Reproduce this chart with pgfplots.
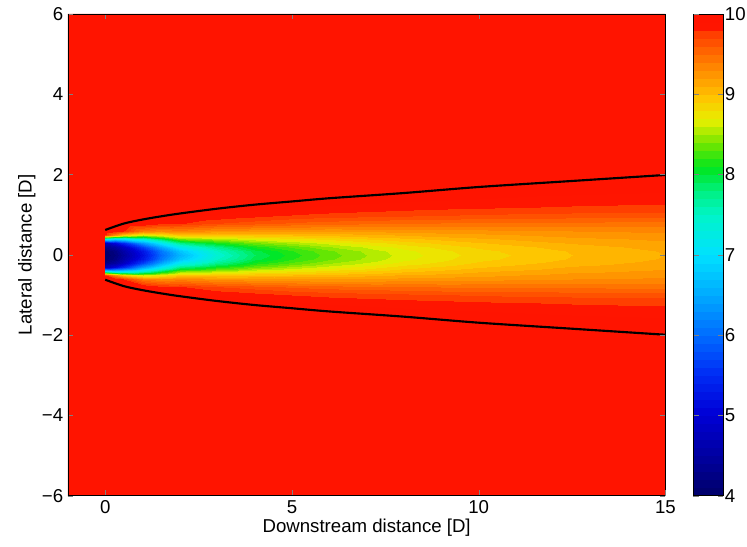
\documentclass[border=0pt]{standalone}
\usepackage{fontspec}
\setmainfont{Liberation Sans}
\usepackage{pgfplots}
\pgfplotsset{compat=1.18}
\definecolor{bgred}{RGB}{255,20,0}
\pgfplotsset{
  /pgf/number format/assume math mode=true,
  every tick label/.append style={font=\fontsize{14}{16}\selectfont},
  every axis label/.append style={font=\fontsize{14}{16}\selectfont},
}
\begin{document}
\begin{tikzpicture}
\begin{axis}[
  view={0}{90},
  scale only axis,
  width=449pt, height=362pt,
  xmin=-1, xmax=15, ymin=-6, ymax=6,
  xtick={0,5,10,15}, ytick={-6,-4,...,6},
  yticklabels={−6,−4,−2,0,2,4,6},
  xlabel={Downstream distance [D]},
  ylabel={Lateral distance [D]},
  xlabel style={yshift=3pt},
  ylabel style={yshift=-2pt},
  axis background/.style={fill=bgred},
  axis on top,
  tick align=inside,
  major tick length=4pt,
  point meta min=4, point meta max=10,
  colormap={wake}{
    rgb255(40pt)=(0,0,110) rgb255(45pt)=(0,0,165) rgb255(50pt)=(0,0,215)
    rgb255(55pt)=(0,45,245) rgb255(60pt)=(0,110,255) rgb255(65pt)=(0,170,255)
    rgb255(70pt)=(0,225,255) rgb255(75pt)=(0,245,200) rgb255(78pt)=(0,240,130)
    rgb255(81pt)=(0,230,30) rgb255(84pt)=(110,230,0) rgb255(87pt)=(230,240,0)
    rgb255(90pt)=(255,195,0) rgb255(95pt)=(255,115,0) rgb255(98pt)=(255,62,0)
    rgb255(99pt)=(255,20,0) rgb255(100pt)=(255,20,0)
  },
  colorbar right,
  colorbar style={
    width=22.5pt,
    at={(parent axis.north east)}, anchor=north west, xshift=12.5pt,
    ytick={4,5,...,10},
    ytick pos=both, yticklabel pos=right,
    yticklabel style={inner xsep=1pt},
    tick align=inside, major tick length=4pt,
  },
]
% x varies within each row: 0 0.25 0.5 1 1.5 2 3 4 5 6 8 10 12.5 15
\addplot3[contour filled={number=60}, mesh/cols=14] table[row sep=\\] {
x y z\\
0 -2.0 10\\ 0.25 -2.0 10\\ 0.5 -2.0 10\\ 1 -2.0 10\\ 1.5 -2.0 10\\ 2 -2.0 10\\ 3 -2.0 10\\ 4 -2.0 10\\ 5 -2.0 10\\ 6 -2.0 10\\ 8 -2.0 10\\ 10 -2.0 10\\ 12.5 -2.0 9.99\\ 15 -2.0 9.98\\
0 -1.8 10\\ 0.25 -1.8 10\\ 0.5 -1.8 10\\ 1 -1.8 10\\ 1.5 -1.8 10\\ 2 -1.8 10\\ 3 -1.8 10\\ 4 -1.8 10\\ 5 -1.8 10\\ 6 -1.8 10\\ 8 -1.8 9.99\\ 10 -1.8 9.98\\ 12.5 -1.8 9.97\\ 15 -1.8 9.95\\
0 -1.6 10\\ 0.25 -1.6 10\\ 0.5 -1.6 10\\ 1 -1.6 10\\ 1.5 -1.6 10\\ 2 -1.6 10\\ 3 -1.6 10\\ 4 -1.6 10\\ 5 -1.6 9.99\\ 6 -1.6 9.985\\ 8 -1.6 9.975\\ 10 -1.6 9.95\\ 12.5 -1.6 9.93\\ 15 -1.6 9.91\\
0 -1.4 10\\ 0.25 -1.4 10\\ 0.5 -1.4 10\\ 1 -1.4 10\\ 1.5 -1.4 10\\ 2 -1.4 10\\ 3 -1.4 10\\ 4 -1.4 9.99\\ 5 -1.4 9.97\\ 6 -1.4 9.96\\ 8 -1.4 9.93\\ 10 -1.4 9.90\\ 12.5 -1.4 9.87\\ 15 -1.4 9.85\\
0 -1.2 10\\ 0.25 -1.2 10\\ 0.5 -1.2 10\\ 1 -1.2 10\\ 1.5 -1.2 10\\ 2 -1.2 10\\ 3 -1.2 9.97\\ 4 -1.2 9.94\\ 5 -1.2 9.91\\ 6 -1.2 9.89\\ 8 -1.2 9.85\\ 10 -1.2 9.82\\ 12.5 -1.2 9.79\\ 15 -1.2 9.77\\
0 -1.0 10\\ 0.25 -1.0 10\\ 0.5 -1.0 10\\ 1 -1.0 10\\ 1.5 -1.0 10\\ 2 -1.0 9.96\\ 3 -1.0 9.90\\ 4 -1.0 9.85\\ 5 -1.0 9.80\\ 6 -1.0 9.77\\ 8 -1.0 9.73\\ 10 -1.0 9.69\\ 12.5 -1.0 9.67\\ 15 -1.0 9.66\\
0 -0.8 10\\ 0.25 -0.8 10\\ 0.5 -0.8 10\\ 1 -0.8 9.95\\ 1.5 -0.8 9.85\\ 2 -0.8 9.82\\ 3 -0.8 9.71\\ 4 -0.8 9.65\\ 5 -0.8 9.59\\ 6 -0.8 9.55\\ 8 -0.8 9.51\\ 10 -0.8 9.49\\ 12.5 -0.8 9.48\\ 15 -0.8 9.47\\
0 -0.6 10\\ 0.25 -0.6 9.95\\ 0.5 -0.6 9.8\\ 1 -0.6 9.4\\ 1.5 -0.6 9.3\\ 2 -0.6 9.36\\ 3 -0.6 9.27\\ 4 -0.6 9.24\\ 5 -0.6 9.22\\ 6 -0.6 9.21\\ 8 -0.6 9.24\\ 10 -0.6 9.27\\ 12.5 -0.6 9.30\\ 15 -0.6 9.32\\
0 -0.5 9.8\\ 0.25 -0.5 9.3\\ 0.5 -0.5 8.9\\ 1 -0.5 8.6\\ 1.5 -0.5 8.75\\ 2 -0.5 8.94\\ 3 -0.5 8.93\\ 4 -0.5 8.98\\ 5 -0.5 9.0\\ 6 -0.5 9.03\\ 8 -0.5 9.11\\ 10 -0.5 9.17\\ 12.5 -0.5 9.24\\ 15 -0.5 9.27\\
0 -0.4 7.2\\ 0.25 -0.4 6.9\\ 0.5 -0.4 7.0\\ 1 -0.4 7.4\\ 1.5 -0.4 7.9\\ 2 -0.4 8.38\\ 3 -0.4 8.52\\ 4 -0.4 8.67\\ 5 -0.4 8.75\\ 6 -0.4 8.83\\ 8 -0.4 8.97\\ 10 -0.4 9.08\\ 12.5 -0.4 9.17\\ 15 -0.4 9.22\\
0 -0.3 4.7\\ 0.25 -0.3 5.1\\ 0.5 -0.3 5.5\\ 1 -0.3 6.4\\ 1.5 -0.3 7.1\\ 2 -0.3 7.76\\ 3 -0.3 8.11\\ 4 -0.3 8.38\\ 5 -0.3 8.52\\ 6 -0.3 8.64\\ 8 -0.3 8.85\\ 10 -0.3 8.99\\ 12.5 -0.3 9.11\\ 15 -0.3 9.18\\
0 -0.2 4.3\\ 0.25 -0.2 4.5\\ 0.5 -0.2 4.85\\ 1 -0.2 5.7\\ 1.5 -0.2 6.5\\ 2 -0.2 7.18\\ 3 -0.2 7.74\\ 4 -0.2 8.13\\ 5 -0.2 8.32\\ 6 -0.2 8.49\\ 8 -0.2 8.74\\ 10 -0.2 8.92\\ 12.5 -0.2 9.05\\ 15 -0.2 9.14\\
0 -0.1 4.05\\ 0.25 -0.1 4.25\\ 0.5 -0.1 4.6\\ 1 -0.1 5.3\\ 1.5 -0.1 6.1\\ 2 -0.1 6.75\\ 3 -0.1 7.49\\ 4 -0.1 7.96\\ 5 -0.1 8.19\\ 6 -0.1 8.38\\ 8 -0.1 8.67\\ 10 -0.1 8.87\\ 12.5 -0.1 9.01\\ 15 -0.1 9.11\\
0 0 4.0\\ 0.25 0 4.2\\ 0.5 0 4.5\\ 1 0 5.2\\ 1.5 0 6.0\\ 2 0 6.6\\ 3 0 7.4\\ 4 0 7.9\\ 5 0 8.15\\ 6 0 8.35\\ 8 0 8.65\\ 10 0 8.85\\ 12.5 0 9.0\\ 15 0 9.1\\
0 0.1 4.05\\ 0.25 0.1 4.25\\ 0.5 0.1 4.6\\ 1 0.1 5.3\\ 1.5 0.1 6.1\\ 2 0.1 6.75\\ 3 0.1 7.49\\ 4 0.1 7.96\\ 5 0.1 8.19\\ 6 0.1 8.38\\ 8 0.1 8.67\\ 10 0.1 8.87\\ 12.5 0.1 9.01\\ 15 0.1 9.11\\
0 0.2 4.3\\ 0.25 0.2 4.5\\ 0.5 0.2 4.85\\ 1 0.2 5.7\\ 1.5 0.2 6.5\\ 2 0.2 7.18\\ 3 0.2 7.74\\ 4 0.2 8.13\\ 5 0.2 8.32\\ 6 0.2 8.49\\ 8 0.2 8.74\\ 10 0.2 8.92\\ 12.5 0.2 9.05\\ 15 0.2 9.14\\
0 0.3 4.7\\ 0.25 0.3 5.1\\ 0.5 0.3 5.5\\ 1 0.3 6.4\\ 1.5 0.3 7.1\\ 2 0.3 7.76\\ 3 0.3 8.11\\ 4 0.3 8.38\\ 5 0.3 8.52\\ 6 0.3 8.64\\ 8 0.3 8.85\\ 10 0.3 8.99\\ 12.5 0.3 9.11\\ 15 0.3 9.18\\
0 0.4 7.2\\ 0.25 0.4 6.9\\ 0.5 0.4 7.0\\ 1 0.4 7.4\\ 1.5 0.4 7.9\\ 2 0.4 8.38\\ 3 0.4 8.52\\ 4 0.4 8.67\\ 5 0.4 8.75\\ 6 0.4 8.83\\ 8 0.4 8.97\\ 10 0.4 9.08\\ 12.5 0.4 9.17\\ 15 0.4 9.22\\
0 0.5 9.8\\ 0.25 0.5 9.3\\ 0.5 0.5 8.9\\ 1 0.5 8.6\\ 1.5 0.5 8.75\\ 2 0.5 8.94\\ 3 0.5 8.93\\ 4 0.5 8.98\\ 5 0.5 9.0\\ 6 0.5 9.03\\ 8 0.5 9.11\\ 10 0.5 9.17\\ 12.5 0.5 9.24\\ 15 0.5 9.27\\
0 0.6 10\\ 0.25 0.6 9.95\\ 0.5 0.6 9.8\\ 1 0.6 9.4\\ 1.5 0.6 9.3\\ 2 0.6 9.36\\ 3 0.6 9.27\\ 4 0.6 9.24\\ 5 0.6 9.22\\ 6 0.6 9.21\\ 8 0.6 9.24\\ 10 0.6 9.27\\ 12.5 0.6 9.30\\ 15 0.6 9.32\\
0 0.8 10\\ 0.25 0.8 10\\ 0.5 0.8 10\\ 1 0.8 9.95\\ 1.5 0.8 9.85\\ 2 0.8 9.82\\ 3 0.8 9.71\\ 4 0.8 9.65\\ 5 0.8 9.59\\ 6 0.8 9.55\\ 8 0.8 9.51\\ 10 0.8 9.49\\ 12.5 0.8 9.48\\ 15 0.8 9.47\\
0 1.0 10\\ 0.25 1.0 10\\ 0.5 1.0 10\\ 1 1.0 10\\ 1.5 1.0 10\\ 2 1.0 9.96\\ 3 1.0 9.90\\ 4 1.0 9.85\\ 5 1.0 9.80\\ 6 1.0 9.77\\ 8 1.0 9.73\\ 10 1.0 9.69\\ 12.5 1.0 9.67\\ 15 1.0 9.66\\
0 1.2 10\\ 0.25 1.2 10\\ 0.5 1.2 10\\ 1 1.2 10\\ 1.5 1.2 10\\ 2 1.2 10\\ 3 1.2 9.97\\ 4 1.2 9.94\\ 5 1.2 9.91\\ 6 1.2 9.89\\ 8 1.2 9.85\\ 10 1.2 9.82\\ 12.5 1.2 9.79\\ 15 1.2 9.77\\
0 1.4 10\\ 0.25 1.4 10\\ 0.5 1.4 10\\ 1 1.4 10\\ 1.5 1.4 10\\ 2 1.4 10\\ 3 1.4 10\\ 4 1.4 9.99\\ 5 1.4 9.97\\ 6 1.4 9.96\\ 8 1.4 9.93\\ 10 1.4 9.90\\ 12.5 1.4 9.87\\ 15 1.4 9.85\\
0 1.6 10\\ 0.25 1.6 10\\ 0.5 1.6 10\\ 1 1.6 10\\ 1.5 1.6 10\\ 2 1.6 10\\ 3 1.6 10\\ 4 1.6 10\\ 5 1.6 9.99\\ 6 1.6 9.985\\ 8 1.6 9.975\\ 10 1.6 9.95\\ 12.5 1.6 9.93\\ 15 1.6 9.91\\
0 1.8 10\\ 0.25 1.8 10\\ 0.5 1.8 10\\ 1 1.8 10\\ 1.5 1.8 10\\ 2 1.8 10\\ 3 1.8 10\\ 4 1.8 10\\ 5 1.8 10\\ 6 1.8 10\\ 8 1.8 9.99\\ 10 1.8 9.98\\ 12.5 1.8 9.97\\ 15 1.8 9.95\\
0 2.0 10\\ 0.25 2.0 10\\ 0.5 2.0 10\\ 1 2.0 10\\ 1.5 2.0 10\\ 2 2.0 10\\ 3 2.0 10\\ 4 2.0 10\\ 5 2.0 10\\ 6 2.0 10\\ 8 2.0 10\\ 10 2.0 10\\ 12.5 2.0 9.99\\ 15 2.0 9.98\\
};
% wake boundary lines
\addplot3[black, line width=1.6pt, smooth, no marks] coordinates {
(0,0.62,10) (0.5,0.78,10) (1,0.88,10) (1.5,0.96,10) (2,1.03,10) (3,1.15,10) (4,1.25,10)
(5,1.33,10) (6,1.41,10) (8,1.54,10) (10,1.69,10) (12.5,1.84,10) (15,1.99,10)
};
\addplot3[black, line width=1.6pt, smooth, no marks] coordinates {
(0,-0.62,10) (0.5,-0.78,10) (1,-0.88,10) (1.5,-0.96,10) (2,-1.03,10) (3,-1.15,10) (4,-1.25,10)
(5,-1.33,10) (6,-1.41,10) (8,-1.54,10) (10,-1.69,10) (12.5,-1.84,10) (15,-1.99,10)
};
\end{axis}
\path (current axis.north) ++(0,10.5pt);
\path (current axis.south) ++(0,-38.5pt);
\path (current axis.west) ++(-51pt,0);
\path (current axis.east) ++(60pt,0);
\end{tikzpicture}
\end{document}
